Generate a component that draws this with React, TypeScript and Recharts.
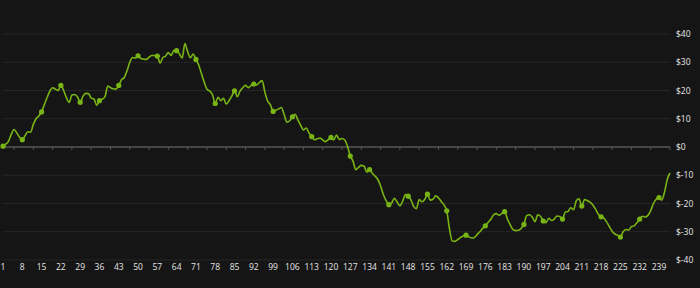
import React from 'react';
import { LineChart, Line, XAxis, YAxis, CartesianGrid, ReferenceLine } from 'recharts';

// values, one per day (1..243)
const values = [
  0.3, 1.0, 2.0, 4.5, 6.2, 5.0, 3.5, 2.6, 4.0, 5.4,
  5.2, 8.0, 10.0, 11.0, 12.4, 15.0, 17.5, 19.8, 21.0, 20.5,
  20.0, 21.8, 20.0, 17.5, 15.8, 18.4, 18.6, 17.8, 15.8, 17.9,
  19.0, 18.9, 17.3, 17.0, 14.8, 16.4, 16.9, 17.8, 21.6, 21.0,
  20.6, 20.5, 21.8, 23.8, 24.6, 27.0, 30.0, 31.7, 31.5, 32.3,
  31.3, 31.1, 31.0, 31.8, 32.4, 32.4, 32.2, 29.7, 31.7, 32.2,
  33.4, 32.4, 34.2, 34.1, 33.0, 31.5, 36.6, 33.7, 31.6, 32.9,
  31.0, 29.0, 26.0, 23.0, 20.4, 19.8, 18.5, 15.4, 17.6, 16.4,
  17.2, 15.2, 16.4, 18.0, 19.9, 17.8, 19.8, 21.0, 21.8, 21.0,
  21.8, 22.3, 22.0, 22.8, 23.5, 19.5, 16.3, 15.0, 12.6, 13.0,
  13.5, 14.0, 11.5, 8.8, 9.3, 10.7, 11.6, 9.5, 7.7, 6.0,
  6.7, 5.0, 3.7, 2.6, 2.9, 3.2, 2.5, 1.9, 2.6, 3.4,
  2.5, 4.2, 2.7, 3.0, 2.5, 0.2, -3.2, -5.0, -8.0, -7.2,
  -6.5, -6.8, -8.9, -8.0, -9.3, -10.3, -11.5, -13.8, -16.8, -19.0,
  -20.4, -19.8, -18.2, -19.5, -20.8, -19.2, -16.8, -17.4, -18.7, -21.0,
  -21.8, -18.6, -19.4, -18.6, -16.7, -18.8, -18.5, -17.3, -18.0, -19.3,
  -20.5, -22.6, -29.0, -33.3, -33.4, -32.8, -32.0, -31.5, -31.2, -31.8,
  -32.2, -32.0, -31.0, -30.0, -28.8, -27.9, -26.7, -25.6, -24.0, -23.6,
  -24.2, -23.5, -22.9, -25.5, -27.5, -29.2, -29.6, -29.5, -28.8, -27.4,
  -24.3, -24.0, -24.8, -26.4, -24.0, -24.5, -26.2, -26.8, -25.2, -26.0,
  -25.5, -24.4, -24.6, -25.5, -23.0, -22.8, -21.5, -22.2, -19.0, -18.3,
  -20.9, -18.6, -19.0, -19.5, -20.5, -22.0, -23.8, -24.7, -25.2, -26.5,
  -28.2, -29.8, -30.8, -31.2, -31.9, -30.0, -29.2, -29.4, -28.2, -27.9,
  -26.8, -25.5, -24.5, -24.8, -24.2, -22.5, -20.0, -18.5, -17.9, -18.8,
  -16.0, -11.5, -9.2,
];
const days = values.map((_, i) => i + 1);
const yTicks = [-40, -30, -20, -10, 0, 10, 20, 30, 40];

const data = days.map((d, i) => ({ day: d, value: values[i] }));

const GREEN = '#78b414';
const STEP = 7;

// zero line with small tick marks under it, every STEP days
const ZeroLine = (props: any) => {
  const { x1, y1, x2 } = props;
  const n = data.length - 1;
  const marks = [];
  for (let k = 0; k <= n; k += STEP) {
    const x = x1 + (k / n) * (x2 - x1);
    marks.push(<line key={k} x1={x} x2={x} y1={y1} y2={y1 + 3} stroke="#555" strokeWidth={1} />);
  }
  return (
    <g>
      <line x1={x1} x2={x2} y1={y1} y2={y1} stroke="#555" strokeWidth={1.5} />
      {marks}
    </g>
  );
};

const renderDot = (p: any) => {
  if (p.index % STEP !== 0) return <g key={`d-${p.index}`} />;
  return <circle key={`d-${p.index}`} cx={p.cx} cy={p.cy} r={2.6} fill={GREEN} />;
};

const tickStyle = { fill: '#e6e6e6', fontSize: 8.5, fontFamily: 'Open Sans' };

export default function App() {
  return (
    <div style={{ position: 'fixed', left: 0, top: 0, width: 700, height: 288, background: '#151515' }}>
      <LineChart width={700} height={288} data={data} margin={{ top: 34, right: 0, bottom: 0, left: 3 }}>
        <CartesianGrid vertical={false} stroke="#272727" />
        <XAxis
          dataKey="day"
          interval={STEP - 1}
          axisLine={false}
          tickLine={false}
          tickSize={0}
          tickMargin={4}
          height={28}
          tick={tickStyle}
        />
        <YAxis
          orientation="right"
          domain={[-40, 40]}
          ticks={yTicks}
          tickFormatter={(v) => `$${v}`}
          axisLine={false}
          tickLine={false}
          tickSize={0}
          tickMargin={6}
          width={30}
          tick={tickStyle}
        />
        <ReferenceLine y={0} shape={ZeroLine} />
        <Line
          type="monotone"
          dataKey="value"
          stroke={GREEN}
          strokeWidth={1.6}
          dot={renderDot}
          activeDot={false}
          isAnimationActive={false}
        />
      </LineChart>
    </div>
  );
}
